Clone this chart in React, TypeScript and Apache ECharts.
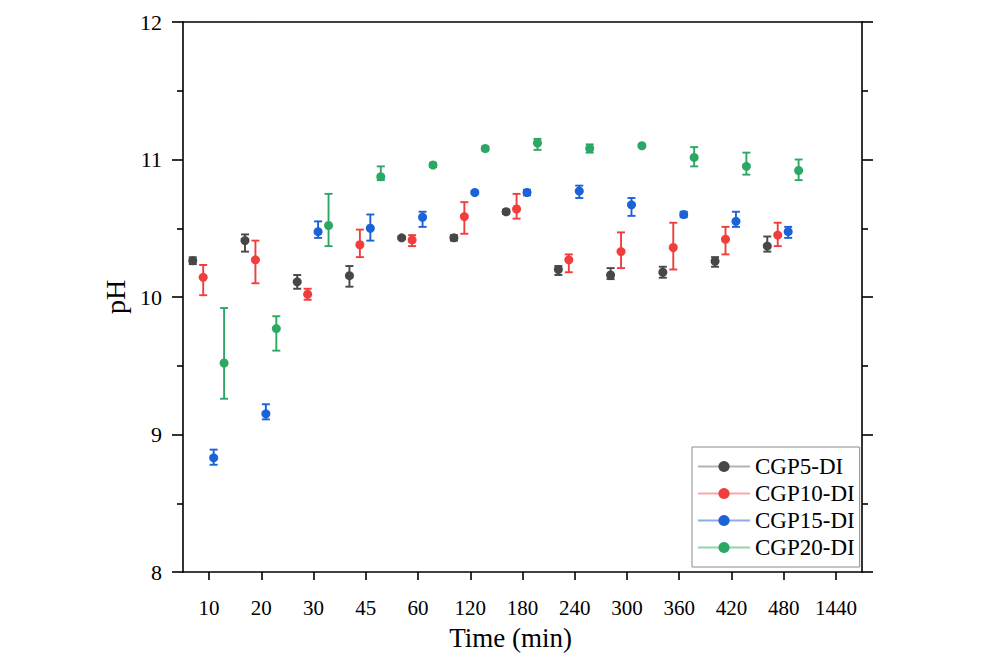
import React, { useEffect, useRef } from 'react';
import * as echarts from 'echarts';

const categories = ['10', '20', '30', '45', '60', '120', '180', '240', '300', '360', '420', '480', '1440'];
const seriesNames = ['CGP5-DI', 'CGP10-DI', 'CGP15-DI', 'CGP20-DI'];

const cgp5Mean = [10.264, 10.41, 10.11, 10.155, 10.43, 10.43, 10.62, 10.2, 10.16, 10.18, 10.26, 10.37];
const cgp5Plus = [0.025, 0.045, 0.05, 0.07, 0.01, 0.02, 0.015, 0.025, 0.05, 0.04, 0.03, 0.07];
const cgp5Minus = [0.025, 0.08, 0.05, 0.08, 0.01, 0.02, 0.015, 0.04, 0.03, 0.04, 0.04, 0.04];

const cgp10Mean = [10.143, 10.27, 10.02, 10.38, 10.415, 10.585, 10.64, 10.27, 10.33, 10.36, 10.42, 10.45];
const cgp10Plus = [0.09, 0.14, 0.04, 0.11, 0.035, 0.105, 0.11, 0.04, 0.14, 0.18, 0.09, 0.09];
const cgp10Minus = [0.13, 0.17, 0.04, 0.09, 0.045, 0.125, 0.07, 0.09, 0.12, 0.16, 0.11, 0.08];

const cgp15Mean = [8.83, 9.15, 10.475, 10.5, 10.58, 10.76, 10.76, 10.77, 10.67, 10.6, 10.55, 10.475];
const cgp15Plus = [0.06, 0.07, 0.075, 0.1, 0.04, 0.01, 0.02, 0.04, 0.05, 0.02, 0.07, 0.035];
const cgp15Minus = [0.05, 0.04, 0.045, 0.09, 0.07, 0.01, 0.02, 0.05, 0.08, 0.02, 0.04, 0.045];

const cgp20Mean = [9.52, 9.77, 10.52, 10.875, 10.96, 11.08, 11.12, 11.08, 11.1, 11.015, 10.95, 10.92];
const cgp20Plus = [0.4, 0.09, 0.23, 0.075, 0.015, 0.015, 0.03, 0.03, 0.01, 0.075, 0.1, 0.08];
const cgp20Minus = [0.26, 0.16, 0.15, 0.025, 0.015, 0.015, 0.05, 0.03, 0.01, 0.065, 0.06, 0.07];

const colors = ['#474747', '#f23d3d', '#1a62d8', '#2ca764'];
const legendLineColors = ['#b3b3b3', '#f7a9ab', '#8eabe9', '#93d3ad'];

export default function App() {
  const ref = useRef<HTMLDivElement>(null);
  useEffect(() => {
    const chart = echarts.init(ref.current!, null, { renderer: 'svg' });
    const font = "'Liberation Serif', 'Times New Roman', serif";
    const axisLineStyle = { color: '#000', width: 1.6 };
    const groups = [
      { mean: cgp5Mean, plus: cgp5Plus, minus: cgp5Minus },
      { mean: cgp10Mean, plus: cgp10Plus, minus: cgp10Minus },
      { mean: cgp15Mean, plus: cgp15Plus, minus: cgp15Minus },
      { mean: cgp20Mean, plus: cgp20Plus, minus: cgp20Minus },
    ];
    const legendSeries = seriesNames.map((name, i) => ({
      type: 'line',
      name,
      data: [],
      symbol: 'circle',
      symbolSize: 11,
      itemStyle: { color: colors[i] },
      lineStyle: { color: legendLineColors[i], width: 1 },
    }));
    const errSeries = groups.map((g, k) => ({
      type: 'custom',
      name: seriesNames[k] + ' points',
      data: g.mean.map((m, i) => [i, m, m + g.plus[i], m - g.minus[i]]),
      encode: { x: 0, y: 1 },
      z: 3,
      renderItem: (params: any, api: any) => {
        const band = api.size([1, 0])[0];
        const dx = band * 0.2 * (k - 1.5) - 0.7;
        const c = api.coord([api.value(0), api.value(1)]);
        const hi = api.coord([api.value(0), api.value(2)]);
        const lo = api.coord([api.value(0), api.value(3)]);
        const x = c[0] + dx;
        const cap = 4;
        const stroke = { stroke: colors[k], lineWidth: 1.9 };
        return {
          type: 'group',
          children: [
            { type: 'line', shape: { x1: x, y1: hi[1], x2: x, y2: lo[1] }, style: stroke },
            { type: 'line', shape: { x1: x - cap, y1: hi[1], x2: x + cap, y2: hi[1] }, style: stroke },
            { type: 'line', shape: { x1: x - cap, y1: lo[1], x2: x + cap, y2: lo[1] }, style: stroke },
            { type: 'circle', shape: { cx: x, cy: c[1], r: 4.5 }, style: { fill: colors[k] } },
          ],
        };
      },
    }));
    chart.setOption({
      animation: false,
      backgroundColor: '#fff',
      grid: { left: 183, right: 136, top: 22, bottom: 88, containLabel: false },
      legend: {
        data: seriesNames,
        orient: 'vertical',
        left: 692,
        top: 447,
        padding: [8, 5, 8, 5],
        itemWidth: 52,
        itemHeight: 14,
        itemGap: 4,
        backgroundColor: '#fff',
        borderColor: '#8a8a8a',
        borderWidth: 1,
        borderRadius: 0,
        textStyle: { fontFamily: font, fontSize: 23, color: '#000' },
      },
      xAxis: [
        {
          type: 'category',
          data: categories,
          boundaryGap: true,
          position: 'bottom',
          axisLine: { show: true, onZero: false, lineStyle: axisLineStyle },
          axisTick: { show: true, alignWithLabel: true, interval: 0, length: 8, inside: false, lineStyle: axisLineStyle },
          axisLabel: { color: '#000', fontFamily: font, fontSize: 21, margin: 25, interval: 0 },
          splitLine: { show: false },
          name: 'Time (min)',
          nameLocation: 'middle',
          nameGap: 52,
          nameTextStyle: { fontFamily: font, fontSize: 27, color: '#000', padding: [0, 24, 0, 0] },
        },
        {
          type: 'category',
          data: categories,
          position: 'top',
          axisLine: { show: true, onZero: false, lineStyle: axisLineStyle },
          axisTick: { show: false },
          axisLabel: { show: false },
          splitLine: { show: false },
        },
      ],
      yAxis: [
        {
          type: 'value',
          min: 8,
          max: 12,
          interval: 1,
          position: 'left',
          axisLine: { show: true, lineStyle: axisLineStyle },
          axisTick: { show: true, length: 11, inside: false, lineStyle: axisLineStyle },
          minorTick: { show: true, splitNumber: 2, length: 6, lineStyle: axisLineStyle },
          axisLabel: { color: '#000', fontFamily: font, fontSize: 22, margin: 21 },
          splitLine: { show: false },
          name: 'pH',
          nameLocation: 'middle',
          nameGap: 47,
          nameRotate: 90,
          nameTextStyle: { fontFamily: font, fontSize: 28, color: '#000' },
        },
        {
          type: 'value',
          min: 8,
          max: 12,
          interval: 1,
          position: 'right',
          axisLine: { show: true, lineStyle: axisLineStyle },
          axisTick: { show: true, length: 11, inside: false, lineStyle: axisLineStyle },
          minorTick: { show: true, splitNumber: 2, length: 6, lineStyle: axisLineStyle },
          axisLabel: { show: false },
          splitLine: { show: false },
        },
      ],
      series: [...legendSeries, ...errSeries],
    });
    return () => chart.dispose();
  }, []);
  return <div ref={ref} style={{ position: 'fixed', left: 0, top: 0, width: 998, height: 660 }} />;
}
